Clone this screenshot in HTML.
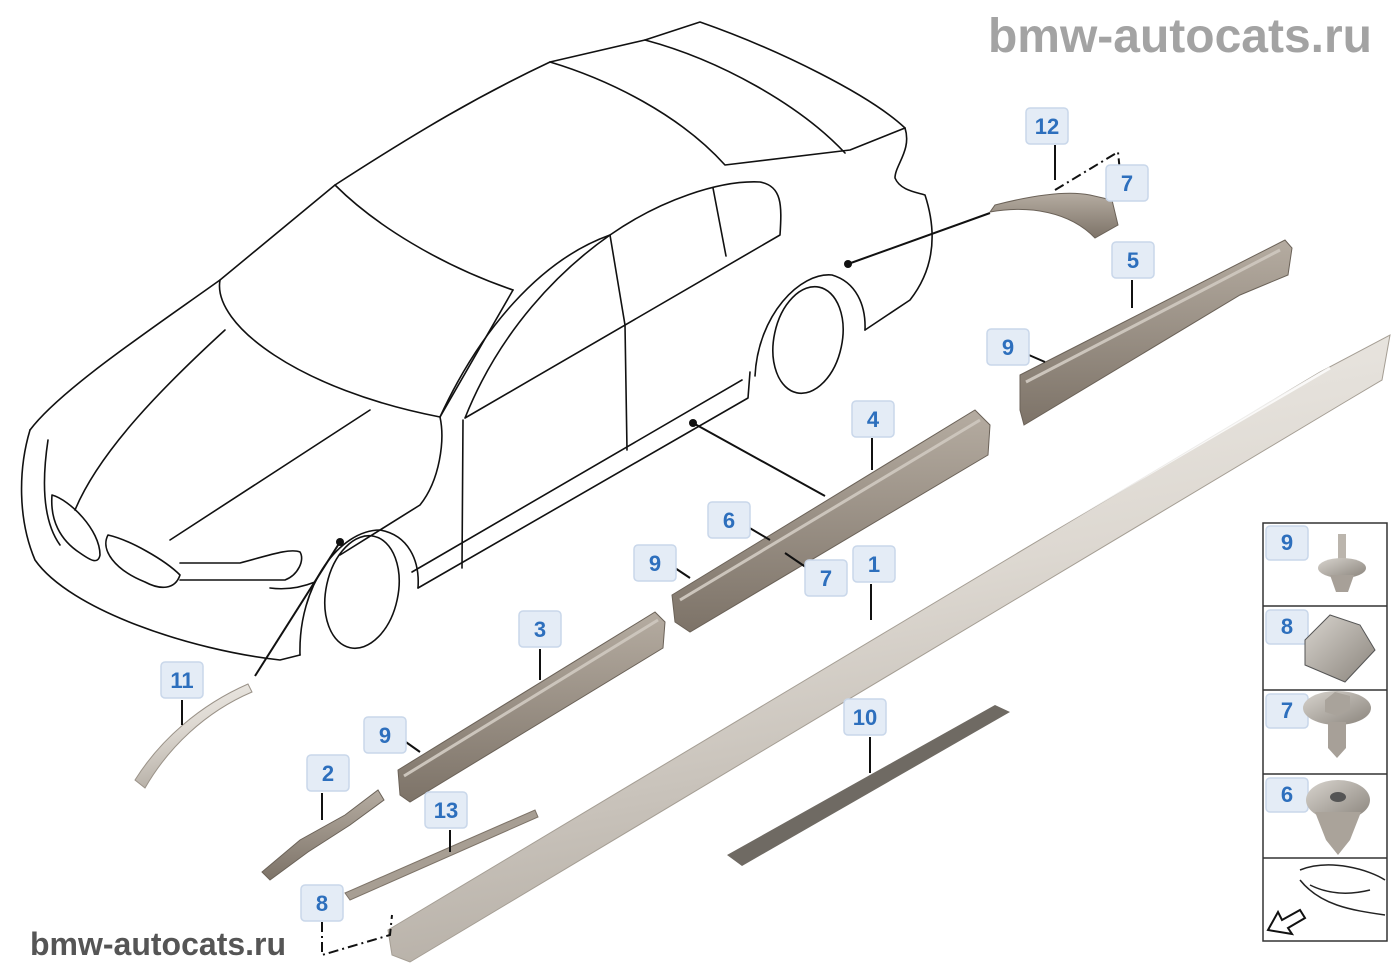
<!DOCTYPE html>
<html><head><meta charset="utf-8"><style>
html,body{margin:0;padding:0;background:#fff;}
svg{display:block}
.lb rect{fill:#e4ecf6;stroke:#c9d7ea;stroke-width:1.5}
.lb text{fill:#2d6fbd;font:bold 22px "Liberation Sans",sans-serif;text-anchor:middle}
.car{fill:none;stroke:#111;stroke-width:1.6;stroke-linecap:round;stroke-linejoin:round}
.ld{stroke:#111;stroke-width:2;fill:none}
</style></head><body>
<svg width="1400" height="980" viewBox="0 0 1400 980" xmlns="http://www.w3.org/2000/svg">
<defs>
<linearGradient id="sill" x1="0" y1="0" x2="0.3" y2="1">
<stop offset="0" stop-color="#f3f1ed"/><stop offset="0.5" stop-color="#ddd8d1"/><stop offset="1" stop-color="#b3aca3"/>
</linearGradient>
<linearGradient id="rail" x1="0" y1="0" x2="0" y2="1">
<stop offset="0" stop-color="#b5aca1"/><stop offset="1" stop-color="#7d7368"/>
</linearGradient>
<linearGradient id="clip" x1="0" y1="0" x2="1" y2="1">
<stop offset="0" stop-color="#d8d4ce"/><stop offset="1" stop-color="#8a847c"/>
</linearGradient>
</defs>

<text x="1372" y="52" text-anchor="end" style="font:bold 48px 'Liberation Sans',sans-serif;fill:#a3a3a3">bmw-autocats.ru</text>
<text x="30" y="955" style="font:bold 32px 'Liberation Sans',sans-serif;fill:#555">bmw-autocats.ru</text>

<g class="car">
<path d="M30,430 C60,390 150,330 220,280 L335,185 C420,130 480,95 550,62 L645,40 L700,22 C780,50 870,95 905,128 C912,150 895,165 895,178 C900,190 915,192 925,195 C937,232 935,268 910,300 L865,330"/>
<path d="M550,62 C610,80 680,115 725,165 L850,150 L905,128"/>
<path d="M645,40 C720,60 800,105 845,153"/>
<path d="M335,185 C375,225 440,265 513,290"/>
<path d="M220,280 C212,325 300,390 440,417 L513,290"/>
<path d="M440,417 C480,330 540,260 610,235"/>
<path d="M465,418 C500,330 560,270 610,235 C660,200 720,180 760,182 C782,186 782,205 780,235 L465,418"/>
<path d="M610,235 L625,325 L627,450"/>
<path d="M713,188 L726,256"/>
<path d="M440,417 C445,440 440,480 420,505 L340,555"/>
<path d="M463,420 L462,568"/>
<path d="M418,588 L748,398 L750,372"/>
<path d="M412,572 L742,380"/>
<path d="M300,655 C298,585 340,530 380,530 C408,535 420,560 418,588"/>
<ellipse cx="362" cy="592" rx="36" ry="57" transform="rotate(12 362 592)"/>
<path d="M755,376 C758,315 800,272 832,275 C856,282 866,305 865,330"/>
<ellipse cx="808" cy="340" rx="34" ry="54" transform="rotate(12 808 340)"/>
<path d="M30,430 C18,470 18,520 35,560 C70,610 190,650 280,660 L300,655"/>
<path d="M48,440 C42,480 42,520 60,545"/>
<path d="M75,510 C100,450 165,385 225,330"/>
<path d="M170,540 L370,410"/>
<path d="M52,495 C70,500 100,530 100,555 C98,565 90,560 80,553 C60,540 50,520 52,495 Z"/>
<path d="M108,535 C130,540 165,560 180,575 C175,590 160,590 145,582 C115,570 100,550 108,535 Z"/>
<path d="M180,563 L240,563 C270,555 290,548 300,552 C305,560 298,575 285,580 L180,580"/>
<path d="M270,588 C285,590 300,588 315,582"/>
</g>
<circle cx="848" cy="264" r="4" fill="#111"/>
<circle cx="693" cy="423" r="4" fill="#111"/>
<circle cx="340" cy="542" r="4" fill="#111"/>
<path class="ld" d="M848,264 L990,213"/>
<path class="ld" d="M693,423 L825,496"/>
<path class="ld" d="M340,542 L255,676"/>

<polygon points="388,930 1320,372 1390,335 1382,380 1345,402 410,962 392,955" fill="url(#sill)" stroke="#a59e94"/>
<polyline points="410,905 1330,368" stroke="#fff" stroke-width="3" fill="none" opacity=".8"/>
<polygon points="727,855 995,705 1010,712 742,866" fill="#6f6a63"/>
<polygon points="672,595 975,410 990,425 988,455 690,632 675,622" fill="url(#rail)" stroke="#6b6258"/>
<polyline points="680,600 980,420" stroke="#ccc5bc" stroke-width="3" fill="none"/>
<polygon points="398,770 655,612 665,622 663,648 410,802 400,795" fill="url(#rail)" stroke="#6b6258"/>
<polyline points="404,776 658,620" stroke="#ccc5bc" stroke-width="3" fill="none"/>
<polygon points="1020,375 1285,240 1292,248 1288,275 1240,295 1024,425 1020,410" fill="url(#rail)" stroke="#6b6258"/>
<polyline points="1026,382 1280,250" stroke="#ccc5bc" stroke-width="3" fill="none"/>
<path d="M990,212 C1030,205 1070,212 1095,238 L1118,225 L1112,200 L1090,195 C1065,190 1030,196 995,205 Z" fill="url(#rail)" stroke="#6b6258"/>
<path d="M135,780 C160,740 200,705 248,684 L252,692 C205,712 168,748 145,788 Z" fill="url(#sill)" stroke="#9a9288"/>
<polygon points="262,872 300,840 345,815 378,790 384,800 350,825 308,852 270,880" fill="url(#rail)" stroke="#6b6258"/>
<polygon points="345,893 535,810 538,817 350,900" fill="#a79e93" stroke="#7d7368"/>

<path d="M322,922 L322,955 L390,935 L392,915" stroke="#111" stroke-width="2" stroke-dasharray="10,4,2,4" fill="none"/>
<path d="M1055,190 L1118,152 L1120,172" stroke="#111" stroke-width="2" stroke-dasharray="10,4,2,4" fill="none"/>

<g class="ld">
<path d="M1055,145 L1055,180"/>
<path d="M1132,280 L1132,308"/>
<path d="M1022,352 L1045,362"/>
<path d="M872,438 L872,470"/>
<path d="M748,527 L770,540"/>
<path d="M675,568 L690,578"/>
<path d="M785,553 L810,570"/>
<path d="M871,584 L871,620"/>
<path d="M540,649 L540,680"/>
<path d="M182,700 L182,725"/>
<path d="M870,737 L870,773"/>
<path d="M403,740 L420,752"/>
<path d="M322,793 L322,820"/>
<path d="M450,830 L450,852"/>
</g>

<g class="lb">
<rect x="1026" y="108" width="42" height="36" rx="4"/><text x="1047" y="134">12</text>
<rect x="1106" y="165" width="42" height="36" rx="4"/><text x="1127" y="191">7</text>
<rect x="1112" y="242" width="42" height="36" rx="4"/><text x="1133" y="268">5</text>
<rect x="987" y="329" width="42" height="36" rx="4"/><text x="1008" y="355">9</text>
<rect x="852" y="401" width="42" height="36" rx="4"/><text x="873" y="427">4</text>
<rect x="708" y="502" width="42" height="36" rx="4"/><text x="729" y="528">6</text>
<rect x="634" y="545" width="42" height="36" rx="4"/><text x="655" y="571">9</text>
<rect x="805" y="560" width="42" height="36" rx="4"/><text x="826" y="586">7</text>
<rect x="853" y="546" width="42" height="36" rx="4"/><text x="874" y="572">1</text>
<rect x="519" y="611" width="42" height="36" rx="4"/><text x="540" y="637">3</text>
<rect x="161" y="662" width="42" height="36" rx="4"/><text x="182" y="688">11</text>
<rect x="844" y="699" width="42" height="36" rx="4"/><text x="865" y="725">10</text>
<rect x="364" y="717" width="42" height="36" rx="4"/><text x="385" y="743">9</text>
<rect x="307" y="755" width="42" height="36" rx="4"/><text x="328" y="781">2</text>
<rect x="425" y="792" width="42" height="36" rx="4"/><text x="446" y="818">13</text>
<rect x="301" y="885" width="42" height="36" rx="4"/><text x="322" y="911">8</text>
</g>

<g fill="none" stroke="#333" stroke-width="1.5">
<rect x="1263" y="523" width="124" height="418"/>
<line x1="1263" y1="606" x2="1387" y2="606"/>
<line x1="1263" y1="690" x2="1387" y2="690"/>
<line x1="1263" y1="774" x2="1387" y2="774"/>
<line x1="1263" y1="858" x2="1387" y2="858"/>
</g>
<g class="lb">
<rect x="1266" y="526" width="42" height="34" rx="4"/><text x="1287" y="550">9</text>
<rect x="1266" y="610" width="42" height="34" rx="4"/><text x="1287" y="634">8</text>
<rect x="1266" y="694" width="42" height="34" rx="4"/><text x="1287" y="718">7</text>
<rect x="1266" y="778" width="42" height="34" rx="4"/><text x="1287" y="802">6</text>
</g>
<rect x="1338" y="534" width="8" height="30" fill="#bbb5ad"/>
<ellipse cx="1342" cy="568" rx="24" ry="10" fill="url(#clip)"/>
<path d="M1330,575 L1354,575 L1348,592 L1336,592 Z" fill="#a7a098"/>
<path d="M1305,640 L1330,615 L1360,625 L1375,650 L1345,682 L1305,665 Z" fill="url(#clip)" stroke="#555"/>
<ellipse cx="1337" cy="708" rx="34" ry="17" fill="url(#clip)"/>
<polygon points="1325,700 1335,692 1350,696 1350,710 1338,716 1325,712" fill="#a9a39b"/>
<path d="M1328,722 L1346,722 L1346,748 L1337,758 L1328,748 Z" fill="#a7a098"/>
<ellipse cx="1338" cy="800" rx="32" ry="20" fill="url(#clip)"/>
<ellipse cx="1338" cy="797" rx="8" ry="5" fill="#555"/>
<path d="M1315,812 L1361,812 L1350,840 L1338,855 L1326,840 Z" fill="#aaa39a"/>
<path d="M1300,870 C1330,858 1370,870 1385,880 M1300,880 C1320,905 1350,910 1385,915 M1310,885 C1330,895 1350,895 1370,890" fill="none" stroke="#222" stroke-width="1.5"/>
<path d="M1268,930 L1278,912 L1282,920 L1300,910 L1305,918 L1288,928 L1292,934 Z" fill="#fff" stroke="#111" stroke-width="2"/>
</svg>
</body></html>
